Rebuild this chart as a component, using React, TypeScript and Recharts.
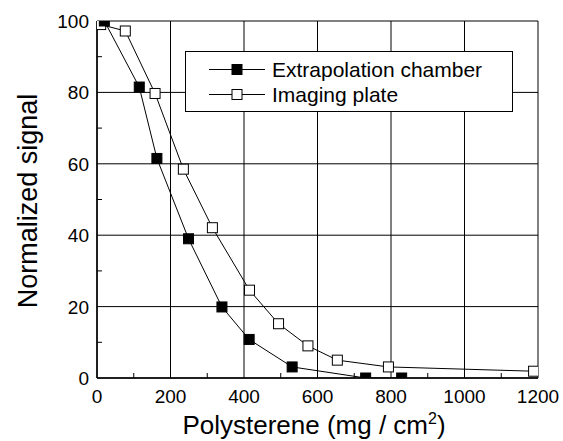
import { LineChart, Line, XAxis, YAxis, CartesianGrid, Legend, Label } from "recharts";

const chamberX = [20, 115, 163, 249, 340, 414, 531, 731, 829];
const chamberY = [100, 81.5, 61.5, 39, 19.9, 10.8, 3.1, 0, 0];
const plateX = [10, 77, 158, 235, 314, 415, 494, 574, 654, 793, 1188];
const plateY = [99, 97.2, 79.7, 58.5, 42.1, 24.6, 15.2, 9.0, 5.0, 3.1, 1.9];

const xTicks = [0, 100, 200, 300, 400, 500, 600, 700, 800, 900, 1000, 1100, 1200];
const yTicks = [0, 10, 20, 30, 40, 50, 60, 70, 80, 90, 100];
const xGrid = [0, 200, 400, 600, 800, 1000, 1200];
const yGrid = [0, 20, 40, 60, 80, 100];

const SERIES = [
  { name: "Extrapolation chamber", fill: "#000" },
  { name: "Imaging plate", fill: "#fff" },
];

const chamber = chamberX.map((x, i) => ({ x, y: chamberY[i] }));
const plate = plateX.map((x, i) => ({ x, y: plateY[i] }));

const FONT = "'Liberation Sans', Arial, sans-serif";
const M = 5; // half marker size

const squareDot = (fill: string) => (p: any) => {
  if (p.cx == null || p.cy == null) return <g key={p.key ?? p.index} />;
  return (
    <rect
      key={p.key ?? p.index}
      x={p.cx - M}
      y={p.cy - M}
      width={M * 2}
      height={M * 2}
      fill={fill}
      stroke="#000"
      strokeWidth={1}
    />
  );
};

const BottomTick = ({ x, y, payload }: any) => {
  const v = payload.value;
  if (v % 200 !== 0) return <line x1={x} x2={x} y1={y} y2={y - 5} stroke="#000" />;
  return (
    <text x={x} y={y + 25} textAnchor="middle" fontSize={19} fontFamily={FONT} fill="#000">
      {v}
    </text>
  );
};

const TopTick = ({ x, y, payload }: any) =>
  payload.value % 200 !== 0 ? <line x1={x} x2={x} y1={y} y2={y + 5} stroke="#000" /> : <g />;

const LeftTick = ({ x, y, payload }: any) => {
  const v = payload.value;
  if (v % 20 !== 0) return <line x1={x} x2={x + 5} y1={y} y2={y} stroke="#000" />;
  return (
    <text x={x - 8} y={y + 7} textAnchor="end" fontSize={19} fontFamily={FONT} fill="#000">
      {v}
    </text>
  );
};

const RightTick = ({ x, y, payload }: any) =>
  payload.value % 20 !== 0 ? <line x1={x} x2={x - 5} y1={y} y2={y} stroke="#000" /> : <g />;

const LegendBox = () => (
  <div style={{ width: 326, height: 59, border: "1px solid #000", background: "#fff" }}>
    <svg width={326} height={59}>
      {SERIES.map((s, i) => {
        const cy = 17.5 + i * 25;
        return (
          <g key={s.name}>
            <line x1={23} x2={79} y1={cy} y2={cy} stroke="#000" />
            <rect x={51 - M} y={cy - M} width={M * 2} height={M * 2} fill={s.fill} stroke="#000" />
            <text x={86} y={cy + 7.5} fontSize={21} fontFamily={FONT} fill="#000">
              {s.name}
            </text>
          </g>
        );
      })}
    </svg>
  </div>
);

export default function App() {
  return (
    <div style={{ position: "absolute", left: 0, top: 0, background: "#fff" }}>
      <LineChart width={563} height={441} margin={{ top: 21, right: 25, bottom: 0, left: 0 }}>
        <CartesianGrid
          stroke="#000"
          strokeWidth={1}
          horizontalValues={yGrid}
          verticalValues={xGrid}
        />
        <XAxis
          type="number"
          dataKey="x"
          domain={[0, 1200]}
          ticks={xTicks}
          interval={0}
          allowDataOverflow
          height={63}
          tickSize={0}
          tickMargin={0}
          tickLine={false}
          axisLine={{ stroke: "#000", strokeWidth: 1.5 }}
          tick={<BottomTick />}
        >
          <Label
            content={() => (
              <text x={314} y={434} textAnchor="middle" fontSize={26} fontFamily={FONT} fill="#000">
                Polysterene (mg / cm
                <tspan fontSize={16} dy={-10}>2</tspan>
                <tspan dy={10}>)</tspan>
              </text>
            )}
          />
        </XAxis>
        <XAxis
          xAxisId="top"
          orientation="top"
          type="number"
          dataKey="x"
          domain={[0, 1200]}
          ticks={xTicks}
          interval={0}
          height={0}
          tickSize={0}
          tickMargin={0}
          tickLine={false}
          axisLine={false}
          tick={<TopTick />}
        />
        <YAxis
          type="number"
          domain={[0, 100]}
          ticks={yTicks}
          interval={0}
          allowDataOverflow
          width={97}
          tickSize={0}
          tickMargin={0}
          tickLine={false}
          axisLine={{ stroke: "#000", strokeWidth: 1.5 }}
          tick={<LeftTick />}
        >
          <Label
            content={() => (
              <text
                x={37}
                y={201}
                transform="rotate(-90, 37, 201)"
                textAnchor="middle"
                fontSize={27}
                fontFamily={FONT}
                fill="#000"
              >
                Normalized signal
              </text>
            )}
          />
        </YAxis>
        <YAxis
          yAxisId="right"
          orientation="right"
          type="number"
          domain={[0, 100]}
          ticks={yTicks}
          interval={0}
          width={0}
          tickSize={0}
          tickMargin={0}
          tickLine={false}
          axisLine={false}
          tick={<RightTick />}
        />
        <Legend
          layout="vertical"
          align="center"
          verticalAlign="middle"
          wrapperStyle={{ left: 185, top: 51, width: 328, height: 61 }}
          content={<LegendBox />}
        />
        <Line
          data={plate}
          dataKey="y"
          name={SERIES[1].name}
          stroke="#000"
          strokeWidth={1}
          dot={squareDot(SERIES[1].fill)}
          activeDot={false}
          isAnimationActive={false}
        />
        <Line
          data={chamber}
          dataKey="y"
          name={SERIES[0].name}
          stroke="#000"
          strokeWidth={1}
          dot={squareDot(SERIES[0].fill)}
          activeDot={false}
          isAnimationActive={false}
        />
      </LineChart>
    </div>
  );
}
